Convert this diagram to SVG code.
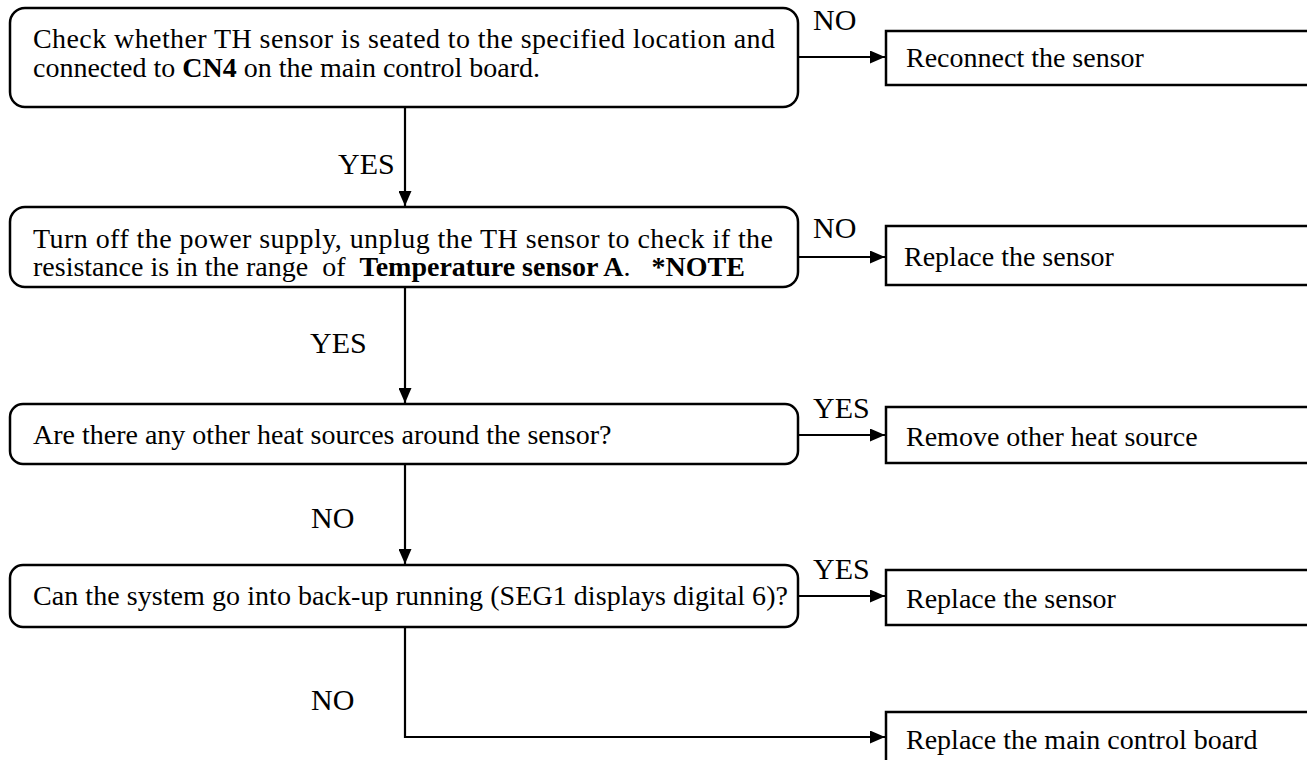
<svg xmlns="http://www.w3.org/2000/svg" width="1307" height="760" viewBox="0 0 1307 760">
<defs>
<style>
.box{fill:#fff;stroke:#000;stroke-width:2.5}
.t{font-family:"Liberation Serif","Times New Roman",serif;font-size:28px;fill:#000;white-space:pre}
.l{font-family:"Liberation Serif","Times New Roman",serif;font-size:30px;fill:#000}
.b{font-weight:bold}
.c{fill:none;stroke:#000;stroke-width:2.2}
</style>
<marker id="ah" markerWidth="15" markerHeight="13" refX="15" refY="6.5" orient="auto" markerUnits="userSpaceOnUse">
<path d="M0,0 L15,6.5 L0,13 Z" fill="#000"/>
</marker>
</defs>
<rect width="1307" height="760" fill="#fff"/>
<g id="connectors">
<path class="c" d="M405,107 V206" marker-end="url(#ah)"/>
<path class="c" d="M405,287 V403" marker-end="url(#ah)"/>
<path class="c" d="M405,464 V564" marker-end="url(#ah)"/>
<path class="c" d="M405,627 V737 H885" marker-end="url(#ah)"/>
<path class="c" d="M798,57 H885" marker-end="url(#ah)"/>
<path class="c" d="M798,257 H885" marker-end="url(#ah)"/>
<path class="c" d="M798,435 H885" marker-end="url(#ah)"/>
<path class="c" d="M798,596 H885" marker-end="url(#ah)"/>
<text class="l" x="813" y="30">NO</text>
<text class="l" x="338" y="174">YES</text>
<text class="l" x="813" y="238">NO</text>
<text class="l" x="310" y="353">YES</text>
<text class="l" x="813" y="418">YES</text>
<text class="l" x="311" y="528">NO</text>
<text class="l" x="813" y="579">YES</text>
<text class="l" x="311" y="710">NO</text>
</g>
<g id="n1">
<rect class="box" x="10" y="8" width="788" height="99" rx="15"/>
<text class="t" x="33" y="48" textLength="742">Check whether TH sensor is seated to the specified location and</text>
<text class="t" x="33" y="77">connected to <tspan class="b">CN4</tspan> on the main control board.</text>
</g>
<g id="n2">
<rect class="box" x="10" y="207" width="788" height="80" rx="15"/>
<text class="t" x="33" y="248" textLength="740">Turn off the power supply, unplug the TH sensor to check if the</text>
<text class="t" x="33" y="276">resistance is in the range  of  <tspan class="b">Temperature sensor A</tspan>.   <tspan class="b">*NOTE</tspan></text>
</g>
<g id="n3">
<rect class="box" x="10" y="404" width="788" height="60" rx="13"/>
<text class="t" x="33" y="444">Are there any other heat sources around the sensor?</text>
</g>
<g id="n4">
<rect class="box" x="10" y="565" width="788" height="62" rx="13"/>
<text class="t" x="33" y="605" textLength="755">Can the system go into back-up running (SEG1 displays digital 6)?</text>
</g>
<g id="r1">
<rect class="box" x="886" y="31" width="440" height="54"/>
<text class="t" x="906" y="67">Reconnect the sensor</text>
</g>
<g id="r2">
<rect class="box" x="886" y="226" width="440" height="59"/>
<text class="t" x="904" y="266">Replace the sensor</text>
</g>
<g id="r3">
<rect class="box" x="886" y="407" width="440" height="56"/>
<text class="t" x="906" y="446">Remove other heat source</text>
</g>
<g id="r4">
<rect class="box" x="886" y="570" width="440" height="55"/>
<text class="t" x="906" y="608">Replace the sensor</text>
</g>
<g id="r5">
<rect class="box" x="886" y="712" width="440" height="60"/>
<text class="t" x="906" y="749">Replace the main control board</text>
</g>
</svg>
